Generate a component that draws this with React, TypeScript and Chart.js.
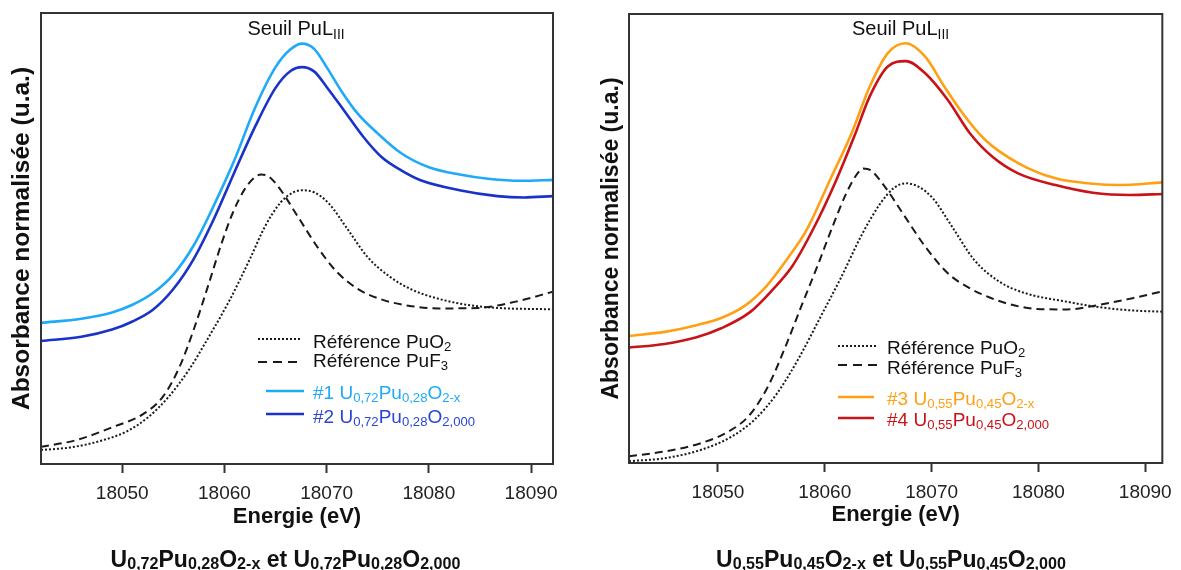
import React, { useEffect, useRef } from "react";
import { Chart, registerables } from "chart.js";

Chart.register(...registerables);

const FONT = "'Liberation Sans', Arial, Helvetica, sans-serif";
const X_TICKS = [18050, 18060, 18070, 18080, 18090];
const Y_TITLE = "Absorbance normalisée (u.a.)";
const X_TITLE = "Energie (eV)";

// ---------- Left panel : U0,72Pu0,28 ----------
const L_S1_E = [18042.05, 18046, 18049, 18051, 18053, 18055, 18057, 18059, 18061, 18063, 18065, 18066.5, 18067.6, 18068.8, 18070, 18071.5, 18073, 18075, 18077.3, 18080, 18083, 18086, 18089, 18092.15];
const L_S1_A = [31.3, 32.2, 33.6, 35.3, 37.9, 42.0, 48.5, 57.5, 67.5, 79.0, 88.0, 92.0, 93.2, 92.0, 88.0, 82.5, 77.8, 73.3, 68.9, 65.8, 64.2, 63.2, 62.8, 63.0];

const L_S2_E = [18042.05, 18046, 18049, 18051, 18053, 18055, 18057, 18059, 18061, 18063, 18065, 18066.5, 18067.6, 18068.8, 18070, 18071.7, 18073.6, 18075.4, 18077.3, 18079.2, 18083, 18086.7, 18089.3, 18092.15];
const L_S2_A = [27.3, 28.2, 29.8, 31.6, 34.2, 38.8, 45.5, 54.5, 64.8, 74.8, 83.4, 87.2, 88.0, 87.0, 83.6, 78.4, 72.5, 68.0, 65.1, 62.9, 60.7, 59.4, 59.1, 59.4];

const L_PUF3_E = [18042.05, 18045.5, 18049.2, 18052, 18054, 18055.6, 18057.1, 18058.4, 18059.7, 18060.8, 18062, 18063, 18063.6, 18064.3, 18065.3, 18067.2, 18069.1, 18071, 18073.2, 18075.5, 18078, 18081, 18084.8, 18088.5, 18092.15];
const L_PUF3_A = [3.8, 5.3, 8.3, 11.0, 15.0, 21.5, 30.5, 39.5, 48.8, 55.6, 61.0, 63.6, 64.2, 63.8, 61.4, 54.8, 48.1, 42.6, 38.6, 36.4, 35.1, 34.5, 34.6, 36.0, 38.2];

const L_PUO2_E = [18042.05, 18045, 18048, 18050.5, 18052.5, 18054.5, 18056.5, 18058.5, 18060.5, 18062.5, 18064, 18065.5, 18066.7, 18067.65, 18068.8, 18070.2, 18072.1, 18074, 18076.2, 18078.4, 18081, 18084, 18086.7, 18092.15];
const L_PUO2_A = [3.1, 3.7, 5.2, 7.3, 10.3, 14.8, 20.8, 28.3, 36.3, 45.5, 52.8, 58.0, 60.2, 60.7, 60.2, 57.8, 51.9, 45.9, 41.5, 38.6, 36.6, 35.2, 34.6, 34.3];

// ---------- Right panel : U0,55Pu0,45 ----------
const R_S3_E = [18041.67, 18045, 18048, 18050.3, 18052.5, 18054.5, 18056.5, 18058.3, 18060.5, 18062.5, 18064.2, 18065.9, 18067.57, 18069.4, 18071.2, 18072.9, 18075.0, 18078.1, 18081.6, 18085.1, 18087.5, 18091.6];
const R_S3_A = [28.3, 29.2, 30.7, 32.3, 35.0, 39.3, 45.5, 51.9, 63.1, 73.4, 83.8, 91.3, 93.5, 90.5, 83.8, 77.9, 72.0, 66.8, 63.4, 62.2, 61.9, 62.5];

const R_S4_E = [18041.67, 18045, 18048, 18050.3, 18053, 18055, 18057, 18059, 18061, 18062.8, 18064.2, 18065.9, 18067.6, 18069.4, 18071.5, 18073.6, 18075.7, 18078.1, 18081.6, 18085.1, 18088.6, 18091.6];
const R_S4_A = [25.7, 26.5, 28.0, 30.0, 33.6, 38.3, 44.0, 52.5, 62.6, 73.0, 81.6, 88.3, 89.5, 86.8, 80.9, 73.4, 68.2, 64.5, 61.9, 60.2, 59.7, 59.9];

const R_PUF3_E = [18041.67, 18045.1, 18048.5, 18051, 18053, 18054.8, 18056.5, 18057.9, 18059.3, 18060.7, 18062, 18063, 18063.6, 18064.3, 18065.6, 18067.3, 18069.4, 18071.5, 18073.5, 18075.5, 18077.4, 18079.9, 18082.7, 18085.4, 18088.6, 18091.6];
const R_PUF3_A = [1.5, 2.6, 4.5, 7.0, 10.8, 17.6, 27.0, 35.5, 43.8, 52.5, 60.0, 64.3, 65.6, 65.2, 61.6, 55.6, 48.2, 42.3, 39.0, 36.8, 35.3, 34.3, 34.2, 35.1, 36.6, 38.2];

const R_PUO2_E = [18041.67, 18045.1, 18048.5, 18051.3, 18053.4, 18055.5, 18057.6, 18059.7, 18061.5, 18063.5, 18065.2, 18066.5, 18067.6, 18068.8, 18070.1, 18071.9, 18074, 18076.4, 18078.8, 18082.7, 18085.4, 18088.6, 18091.6];
const R_PUO2_A = [0.4, 1.1, 3.0, 5.9, 9.6, 15.4, 23.5, 33.0, 41.2, 51.0, 57.8, 61.3, 62.3, 61.5, 59.0, 52.7, 45.2, 40.3, 37.8, 35.9, 34.8, 34.0, 33.7];

const C_S1 = "#1eaaf8";
const C_S2 = "#1932c8";
const C_S3 = "#ffa014";
const C_S4 = "#c81419";
const C_REF = "#1a1a1a";

const DOT = [2, 2];
const DASH = [8, 5];

type Series = { e: number[]; a: number[]; color: string; width: number; dash: number[] };

const framePlugin = {
  id: "frame",
  afterDatasetsDraw(chart: any) {
    const { ctx, chartArea } = chart;
    const { left, top, right, bottom } = chartArea;
    ctx.save();
    ctx.strokeStyle = "#333";
    ctx.lineWidth = 2;
    ctx.strokeRect(left, top, right - left, bottom - top);
    ctx.restore();
  },
};

type PanelProps = {
  pageLeft: number;
  w: number;
  h: number;
  xMin: number;
  xMax: number;
  series: Series[];
  pad: { left: number; top: number; right: number; bottom: number };
  yTitleSize: number;
  yTitlePadBottom: number;
  xTitlePadTop: number;
};

function Panel(p: PanelProps) {
  const ref = useRef<HTMLCanvasElement | null>(null);
  useEffect(() => {
    if (!ref.current) return;
    const chart = new Chart(ref.current, {
      type: "line",
      data: {
        datasets: p.series.map((s) => ({
          data: s.e.map((e, i) => ({ x: e, y: s.a[i] })),
          borderColor: s.color,
          borderWidth: s.width,
          borderDash: s.dash,
          pointRadius: 0,
          fill: false,
          cubicInterpolationMode: "monotone" as const,
        })),
      },
      options: {
        responsive: false,
        animation: false,
        devicePixelRatio: 1,
        layout: { padding: p.pad },
        plugins: { legend: { display: false }, tooltip: { enabled: false } },
        events: [],
        scales: {
          x: {
            type: "linear",
            min: p.xMin,
            max: p.xMax,
            afterBuildTicks: (s: any) => {
              s.ticks = X_TICKS.map((v) => ({ value: v }));
            },
            ticks: {
              color: "#222",
              font: { family: FONT, size: 19 },
              padding: 9,
              maxRotation: 0,
              autoSkip: false,
              callback: (v: any) => String(v),
            },
            grid: {
              display: true,
              drawOnChartArea: false,
              drawTicks: true,
              tickLength: 9,
              tickColor: "#333",
              tickWidth: 2,
              color: "#333",
            },
            border: { display: false },
            title: {
              display: true,
              text: X_TITLE,
              color: "#111",
              font: { family: FONT, size: 22, weight: "bold" },
              padding: { top: p.xTitlePadTop, bottom: 0 },
            },
          },
          y: {
            min: 0,
            max: 100,
            ticks: { display: false },
            grid: { display: false, drawTicks: false, tickLength: 0 },
            border: { display: false },
            title: {
              display: true,
              text: Y_TITLE,
              color: "#111",
              font: { family: FONT, size: p.yTitleSize, weight: "bold" },
              padding: { top: 0, bottom: p.yTitlePadBottom },
            },
          },
        },
      } as any,
      plugins: [framePlugin],
    });
    return () => chart.destroy();
  }, []);
  return (
    <canvas
      ref={ref}
      width={p.w}
      height={p.h}
      style={{ position: "absolute", left: p.pageLeft, top: 0, width: p.w, height: p.h }}
    />
  );
}

const subStyle: React.CSSProperties = { fontSize: "0.69em", lineHeight: 0, verticalAlign: "-0.28em" };
const S = ({ children }: { children: React.ReactNode }) => <sub style={subStyle}>{children}</sub>;
const capSub: React.CSSProperties = { fontSize: "0.7em", lineHeight: 0, verticalAlign: "-0.15em" };
const CS = ({ children }: { children: React.ReactNode }) => <sub style={capSub}>{children}</sub>;

function Txt(props: {
  x: number;
  y: number;
  size: number;
  color?: string;
  bold?: boolean;
  center?: boolean;
  children: React.ReactNode;
}) {
  return (
    <div
      style={{
        position: "absolute",
        left: props.x,
        top: props.y,
        transform: `translate(${props.center ? "-50%" : "0"}, -50%)`,
        fontFamily: FONT,
        fontSize: props.size,
        lineHeight: 1,
        whiteSpace: "nowrap",
        fontWeight: props.bold ? 700 : 400,
        color: props.color || "#111",
      }}
    >
      {props.children}
    </div>
  );
}

const leftSeries: Series[] = [
  { e: L_PUO2_E, a: L_PUO2_A, color: C_REF, width: 2, dash: DOT },
  { e: L_PUF3_E, a: L_PUF3_A, color: C_REF, width: 2, dash: DASH },
  { e: L_S1_E, a: L_S1_A, color: C_S1, width: 2.6, dash: [] },
  { e: L_S2_E, a: L_S2_A, color: C_S2, width: 2.6, dash: [] },
];

const rightSeries: Series[] = [
  { e: R_PUO2_E, a: R_PUO2_A, color: C_REF, width: 2, dash: DOT },
  { e: R_PUF3_E, a: R_PUF3_A, color: C_REF, width: 2, dash: DASH },
  { e: R_S3_E, a: R_S3_A, color: C_S3, width: 2.6, dash: [] },
  { e: R_S4_E, a: R_S4_A, color: C_S4, width: 2.6, dash: [] },
];

export default function App() {
  return (
    <div
      style={{
        position: "absolute",
        left: 0,
        top: 0,
        width: 1181,
        height: 570,
        background: "#fff",
        overflow: "hidden",
      }}
    >
      <Panel
        pageLeft={0}
        w={580}
        h={540}
        xMin={18042.05}
        xMax={18092.15}
        series={leftSeries}
        pad={{ left: 7.3, top: 13, right: 27, bottom: 9.8 }}
        yTitleSize={24.5}
        yTitlePadBottom={4.3}
        xTitlePadTop={-10}
      />
      <Panel
        pageLeft={590}
        w={591}
        h={540}
        xMin={18041.67}
        xMax={18091.6}
        series={rightSeries}
        pad={{ left: 8.2, top: 14, right: 11, bottom: 11.8 }}
        yTitleSize={23}
        yTitlePadBottom={3.2}
        xTitlePadTop={-11}
      />

      <svg
        width={1181}
        height={570}
        style={{ position: "absolute", left: 0, top: 0, pointerEvents: "none" }}
      >
        <line x1={258} y1={339} x2={302} y2={339} stroke={C_REF} strokeWidth={2} strokeDasharray="2 2" />
        <line x1={258} y1={362} x2={302} y2={362} stroke={C_REF} strokeWidth={2} strokeDasharray="9 6" />
        <line x1={266} y1={391} x2={304} y2={391} stroke={C_S1} strokeWidth={2.6} />
        <line x1={266} y1={414} x2={304} y2={414} stroke={C_S2} strokeWidth={2.6} />

        <line x1={838} y1={346} x2={877} y2={346} stroke={C_REF} strokeWidth={2} strokeDasharray="2 2" />
        <line x1={838} y1={365} x2={877} y2={365} stroke={C_REF} strokeWidth={2} strokeDasharray="9 6" />
        <line x1={838} y1={397} x2={874} y2={397} stroke={C_S3} strokeWidth={2.6} />
        <line x1={838} y1={418} x2={874} y2={418} stroke={C_S4} strokeWidth={2.6} />
      </svg>

      <Txt x={296} y={27.5} size={20} center>
        Seuil PuL<S>III</S>
      </Txt>
      <Txt x={900.5} y={27.5} size={20} center>
        Seuil PuL<S>III</S>
      </Txt>

      <Txt x={313} y={340.5} size={19}>
        Référence PuO<S>2</S>
      </Txt>
      <Txt x={313} y={360} size={19}>
        Référence PuF<S>3</S>
      </Txt>
      <Txt x={313} y={391.5} size={19} color={C_S1}>
        #1 U<S>0,72</S>Pu<S>0,28</S>O<S>2-x</S>
      </Txt>
      <Txt x={313} y={415.5} size={19} color="#2a44d8">
        #2 U<S>0,72</S>Pu<S>0,28</S>O<S>2,000</S>
      </Txt>

      <Txt x={887} y={347} size={19}>
        Référence PuO<S>2</S>
      </Txt>
      <Txt x={887} y={366.5} size={19}>
        Référence PuF<S>3</S>
      </Txt>
      <Txt x={887} y={398} size={19} color={C_S3}>
        #3 U<S>0,55</S>Pu<S>0,45</S>O<S>2-x</S>
      </Txt>
      <Txt x={887} y={419} size={19} color={C_S4}>
        #4 U<S>0,55</S>Pu<S>0,45</S>O<S>2,000</S>
      </Txt>

      <Txt x={285.5} y={558.5} size={23} bold center>
        U<CS>0,72</CS>Pu<CS>0,28</CS>O<CS>2-x</CS> et U<CS>0,72</CS>Pu<CS>0,28</CS>O<CS>2,000</CS>
      </Txt>
      <Txt x={891} y={558.5} size={23} bold center>
        U<CS>0,55</CS>Pu<CS>0,45</CS>O<CS>2-x</CS> et U<CS>0,55</CS>Pu<CS>0,45</CS>O<CS>2,000</CS>
      </Txt>
    </div>
  );
}
